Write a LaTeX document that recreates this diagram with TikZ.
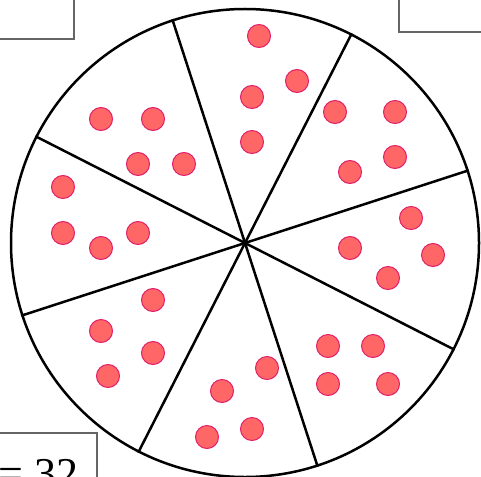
\documentclass[tikz,border=0pt]{standalone}
\usepackage{fontspec}
\setmainfont{Liberation Serif}
\definecolor{dotfill}{HTML}{FF6666}
\definecolor{dotedge}{HTML}{E0206A}
\definecolor{boxgray}{HTML}{666666}
\tikzset{
  dot/.style={circle, inner sep=0pt, minimum size=23pt, fill=dotfill, draw=dotedge, line width=1pt},
  spoke/.style={draw=black, line width=2.5pt},
  framebox/.style={draw=boxgray, line width=1.5pt},
}
\begin{document}
\begin{tikzpicture}[x=1pt,y=-1pt]
\useasboundingbox (0,0) rectangle (481,476);
% frames cut by the edges
\draw[framebox] (-10,-10) rectangle (74,39);
\draw[framebox] (399,-10) rectangle (495,32);
\draw[framebox] (-10,433) rectangle (97,495);
\node[anchor=base west, inner sep=0pt, font=\fontsize{44}{44}\selectfont] (eq) at (-2,488) {= 32};
% pie
\node[circle, draw=black, line width=2.5pt, minimum size=468pt, inner sep=0pt] (pie) at (245,243) {};
\foreach \a in {18,63,108,153,198,243,288,333}{
  \draw[spoke] (pie.center) -- (pie.\a);
}
% dots
\foreach \x/\y [count=\i] in {259/36, 297/81, 252/97, 252/142,
  335/112, 395/112, 395/157, 350/172,
  411/218, 350/248, 433/255, 388/278,
  328/346, 373/346, 328/384, 388/384,
  267/368, 222/391, 252/429, 207/437,
  153/300, 101/331, 153/353, 108/376,
  63/187, 63/233, 101/248, 138/233,
  101/119, 153/119, 138/164, 184/164}{
  \node[dot] (d\i) at (\x,\y) {};
}
\end{tikzpicture}
\end{document}
